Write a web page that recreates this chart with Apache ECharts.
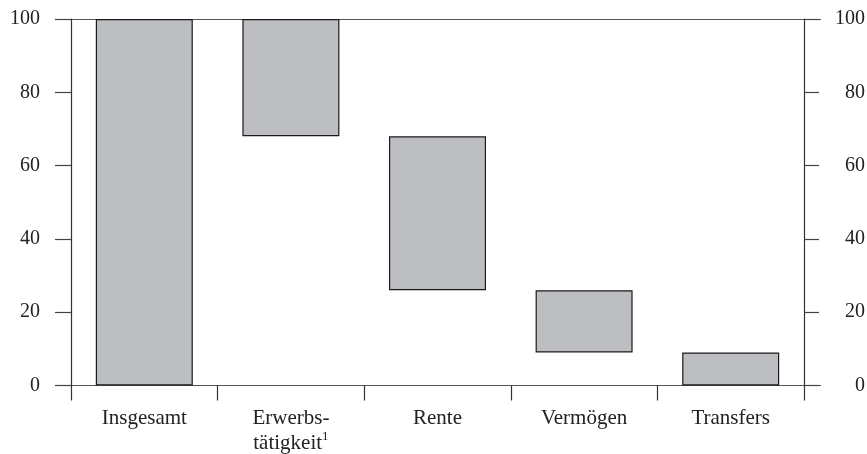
<!DOCTYPE html>
<html><head><meta charset="utf-8">
<script src="https://cdn.jsdelivr.net/npm/echarts@6/dist/echarts.min.js"></script>
<style>html,body{margin:0;padding:0;background:#fff}#c{width:867px;height:454px}</style>
</head><body><div id="c"></div>
<script>
const categories = ['Insgesamt', 'Erwerbs-\ntätigkeit{sup|1}', 'Rente', 'Vermögen', 'Transfers'];
const baseValues = [0, 68, 26, 9, 0];
const barValues = [100, 32, 42, 17, 9];
const yTicks = [0, 20, 40, 60, 80, 100];

const FONT = '"Liberation Serif", "DejaVu Serif", serif';
const chart = echarts.init(document.getElementById('c'), null, {renderer: 'canvas'});
const yMin = yTicks[0], yMax = yTicks[yTicks.length - 1], yStep = yTicks[1] - yTicks[0];

chart.setOption({
  animation: false,
  backgroundColor: '#fff',
  grid: [
    {left: 71, right: 63, top: 19, bottom: 68.5, containLabel: false, outerBoundsMode: 'none'},
    {left: 55, right: 46, top: 19, bottom: 68.5, containLabel: false, outerBoundsMode: 'none'}
  ],
  xAxis: [
    {
      type: 'category', data: categories, gridIndex: 0,
      axisLine: {show: false},
      axisTick: {show: true, interval: 0, length: 15, lineStyle: {color: '#333', width: 1.2}},
      axisLabel: {
        interval: 0, margin: 20, color: '#222', fontFamily: FONT, fontSize: 21, lineHeight: 25,
        rich: {sup: {fontFamily: FONT, fontSize: 13, color: '#222', verticalAlign: 'top', padding: [0, 0, 8, 0]}}
      }
    },
    {type: 'value', gridIndex: 1, show: false, min: 0, max: 1}
  ],
  yAxis: [
    {
      type: 'value', gridIndex: 0, min: yMin, max: yMax, interval: yStep, position: 'left',
      axisLine: {show: true, lineStyle: {color: '#333', width: 1.2}},
      axisTick: {show: true, length: 16, lineStyle: {color: '#444', width: 1.2}},
      axisLabel: {margin: 31, color: '#222', fontFamily: FONT, fontSize: 20},
      splitLine: {show: false}
    },
    {
      type: 'value', gridIndex: 0, min: yMin, max: yMax, interval: yStep, position: 'right',
      axisLine: {show: true, lineStyle: {color: '#333', width: 1.2}},
      axisTick: {show: true, length: 15, lineStyle: {color: '#444', width: 1.2}},
      axisLabel: {margin: 61, align: 'right', color: '#222', fontFamily: FONT, fontSize: 20},
      splitLine: {show: false}
    },
    {
      type: 'value', gridIndex: 1, min: yMin, max: yMax, interval: yMax - yMin,
      axisLine: {show: false}, axisTick: {show: false}, axisLabel: {show: false},
      splitLine: {show: true, lineStyle: {color: '#555', width: 1.2}}
    }
  ],
  series: [
    {
      type: 'bar', stack: 'w', xAxisIndex: 0, yAxisIndex: 0, data: baseValues,
      barWidth: 97, itemStyle: {color: 'transparent'}, silent: true, z: 3
    },
    {
      type: 'bar', stack: 'w', xAxisIndex: 0, yAxisIndex: 0, data: barValues,
      barWidth: 97, itemStyle: {color: '#bdbec2', borderColor: '#1a1a1a', borderWidth: 1.2}, z: 3
    }
  ]
});
</script></body></html>
